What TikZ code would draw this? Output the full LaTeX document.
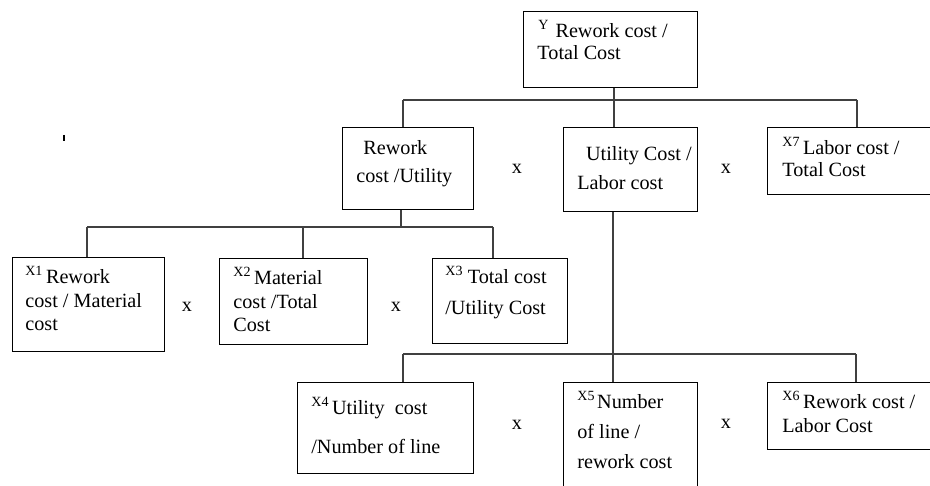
\documentclass[tikz,border=0pt]{standalone}
\usepackage{fontspec}
\setmainfont{Liberation Serif}
\newcommand{\xlab}[1]{\raisebox{4.6pt}{\fontsize{8}{9}\selectfont #1}}

\begin{document}
\begin{tikzpicture}[x=0.02cm, y=-0.02cm,
    box/.style={draw, line width=0.6pt, inner sep=0pt, anchor=north west},
    conn/.style={draw=black!75, line width=0.7pt},
    txt/.style={anchor=base west, inner sep=0pt, align=left, font=\fontsize{11.5}{13.6}\selectfont},
    times/.style={inner sep=0pt, font=\fontsize{11.5}{13.6}\selectfont}]
    \clip (0,0) rectangle (930,486);

    % Boxes
    \node[box, minimum width=3.48cm, minimum height=1.52cm] (y) at (523,11) {};
    \node[box, minimum width=2.62cm, minimum height=1.64cm] (ru) at (342,127) {};
    \node[box, minimum width=2.68cm, minimum height=1.68cm] (ul) at (563,127) {};
    \node[box, minimum width=3.30cm, minimum height=1.34cm] (x7) at (767,127) {};
    \node[box, minimum width=3.04cm, minimum height=1.88cm] (x1) at (12,257) {};
    \node[box, minimum width=2.96cm, minimum height=1.72cm] (x2) at (219,258) {};
    \node[box, minimum width=2.70cm, minimum height=1.70cm] (x3) at (432,258) {};
    \node[box, minimum width=3.52cm, minimum height=1.82cm] (x4) at (297,382) {};
    \node[box, minimum width=2.68cm, minimum height=2.20cm] (x5) at (563,382) {};
    \node[box, minimum width=3.30cm, minimum height=1.34cm] (x6) at (767,382) {};

    % Box texts (placed at the baseline of the last line)
    \node[txt] (yt) at (538,60) {\xlab{Y}\hspace{4pt}Rework cost /\\[-0.6pt]\hspace{-0.5pt}Total Cost};
    \node[txt] (rut) at (356,183) {\hspace{4pt}Rework\\[2.8pt]cost /Utility};
    \node[txt] (ult) at (577,190) {\hspace{5pt}Utility Cost /\\[3.4pt]Labor cost};
    \node[txt] (x7t) at (782,177) {\xlab{X7}\hspace{2pt}Labor cost /\\[-0.6pt]Total Cost};
    \node[txt] (x1t) at (25,331) {\xlab{X1}\hspace{2pt}Rework\\cost / Material\\cost};
    \node[txt] (x2t) at (233,332) {\xlab{X2}\hspace{2pt}Material\\cost /Total\\Cost};
    \node[txt] (x3t) at (445,315) {\xlab{X3}\hspace{3pt}Total cost\\[4.5pt]/Utility Cost};
    \node[txt] (x4t) at (311,453) {\xlab{X4}\hspace{2pt}Utility\ \ cost\\[8.5pt]/Number of line};
    \node[txt] (x5t) at (577,468) {\xlab{X5}\hspace{1.5pt}Number\\[3.4pt]of line /\\[3.4pt]rework cost};
    \node[txt] (x6t) at (782,432) {\xlab{X6}\hspace{2pt}Rework cost /\\Labor Cost};

    % Multiplication signs
    \node[times] (m1) at (517,169) {x};
    \node[times] (m2) at (726,169) {x};
    \node[times] (m3) at (187,307) {x};
    \node[times] (m4) at (396,307) {x};
    \node[times] (m5) at (517,425) {x};
    \node[times] (m6) at (726,424) {x};

    % Top level
    \coordinate (ta) at (614,100);
    \coordinate (tl) at (403,100);
    \coordinate (tr) at (857,100);
    \draw[conn] (y.south -| ta) -- (ul.north -| ta);
    \draw[conn] (tl) -- (tr);
    \draw[conn] (tl) -- (tl |- ru.north);
    \draw[conn] (tr) -- (tr |- x7.north);

    % Rework cost / Utility branch
    \coordinate (ma) at (401,227);
    \coordinate (ml) at (87,227);
    \coordinate (mc) at (303,227);
    \coordinate (mr) at (493,227);
    \draw[conn] (ru.south -| ma) -- (ma);
    \draw[conn] (ml) -- (mr);
    \draw[conn] (ml) -- (ml |- x1.north);
    \draw[conn] (mc) -- (mc |- x2.north);
    \draw[conn] (mr) -- (mr |- x3.north);

    % Utility cost / Labor cost branch
    \coordinate (ba) at (613,354);
    \coordinate (bl) at (403,354);
    \coordinate (br) at (856,354);
    \draw[conn] (ul.south -| ba) -- (x5.north -| ba);
    \draw[conn] (bl) -- (br);
    \draw[conn] (bl) -- (bl |- x4.north);
    \draw[conn] (br) -- (br |- x6.north);

    % stray mark
    \draw[line width=0.7pt] (64,135) -- (64,141);
\end{tikzpicture}
\end{document}
